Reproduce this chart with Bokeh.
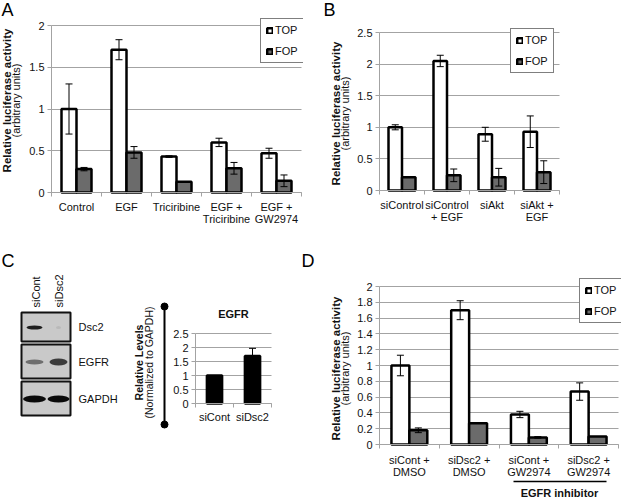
import math
from bokeh.plotting import figure
from bokeh.models import (Range1d, FixedTicker, ColumnDataSource, Whisker, TeeHead,
                          Legend, LegendItem, Label, Arrow, NumeralTickFormatter)
from bokeh.layouts import row, column
from bokeh.core.properties import value
from bokeh.embed import file_html
from bokeh.resources import INLINE

# ---------------- data ----------------
A_categories = ["Control", "EGF", "Triciribine", "EGF +\nTriciribine", "EGF +\nGW2974"]
A_top = [1.00, 1.71, 0.43, 0.60, 0.47]
A_top_err = [0.30, 0.12, 0.01, 0.05, 0.06]
A_fop = [0.28, 0.48, 0.13, 0.29, 0.14]
A_fop_err = [0.02, 0.07, 0.00, 0.07, 0.07]
A_yticks = [0, 0.5, 1, 1.5, 2]

B_categories = ["siControl", "siControl\n+ EGF", "siAkt", "siAkt +\nEGF"]
B_top = [1.00, 2.05, 0.89, 0.93]
B_top_err = [0.04, 0.09, 0.11, 0.25]
B_fop = [0.21, 0.24, 0.21, 0.29]
B_fop_err = [0.00, 0.10, 0.14, 0.18]
B_yticks = [0, 0.5, 1, 1.5, 2, 2.5]

C_categories = ["siCont", "siDsc2"]
C_values = [1.00, 1.70]
C_err = [0.00, 0.27]
C_yticks = [0, 0.5, 1, 1.5, 2, 2.5]
blot_lanes = ["siCont", "siDsc2"]
blot_rows = ["Dsc2", "EGFR", "GAPDH"]
blot_band_strength = [[0.85, 0.08], [0.45, 0.70], [0.95, 0.95]]

D_categories = ["siCont +\nDMSO", "siDsc2 +\nDMSO", "siCont +\nGW2974", "siDsc2 +\nGW2974"]
D_top = [1.00, 1.70, 0.38, 0.67]
D_top_err = [0.13, 0.12, 0.04, 0.11]
D_fop = [0.18, 0.27, 0.09, 0.10]
D_fop_err = [0.03, 0.00, 0.01, 0.00]
D_yticks = [0, 0.2, 0.4, 0.6, 0.8, 1, 1.2, 1.4, 1.6, 1.8, 2]

series_names = ["TOP", "FOP"]

# ---------------- style ----------------
FONT = "Liberation Sans"
GRID = "#a3a3a3"
FOP_FILL = "#6b6b6b"
TXT = "#111111"


def panel(cats, series, yticks, fig_box, area, bar_w=0.3, label_standoff=4):
    """fig_box: (x0, y0, w, h) of the figure on the page; area: (l, t, r, b) plot area on the page."""
    fx0, fy0, fw, fh = fig_box
    l, t, r, b = area
    n = len(cats)
    ymax = yticks[-1]
    sx = (r - l) / n
    sy = (b - t) / ymax
    xr = Range1d(-0.5 - (l - fx0) / sx, -0.5 + (fx0 + fw - l) / sx)
    yr = Range1d(-(fy0 + fh - b) / sy, (b - fy0) / sy)
    p = figure(width=fw, height=fh, x_range=xr, y_range=yr,
               toolbar_location=None, output_backend="svg", min_border=0)
    p.outline_line_color = None
    p.xgrid.visible = False
    g = p.ygrid[0]
    g.ticker = FixedTicker(ticks=yticks)
    g.grid_line_color = GRID
    g.cross_bounds = (-0.5, n - 0.5)

    xa = p.xaxis[0]
    xa.fixed_location = 0
    xa.bounds = (-0.5, n - 0.5)
    xa.ticker = FixedTicker(ticks=list(range(n)), minor_ticks=[i - 0.5 for i in range(n + 1)])
    xa.major_label_overrides = {i: c for i, c in enumerate(cats)}
    xa.major_tick_out = 0
    xa.major_tick_in = 0
    xa.minor_tick_out = 4
    xa.minor_tick_in = 0
    xa.minor_tick_line_color = GRID
    xa.axis_line_color = GRID
    xa.major_label_text_font = FONT
    xa.major_label_text_font_size = "11px"
    xa.major_label_text_color = TXT
    xa.major_label_text_line_height = 1.0
    xa.major_label_standoff = label_standoff

    ya = p.yaxis[0]
    ya.fixed_location = -0.5
    ya.bounds = (0, ymax)
    ya.ticker = FixedTicker(ticks=yticks)
    ya.formatter = NumeralTickFormatter(format="0.[0]")
    ya.major_tick_out = 4
    ya.major_tick_in = 0
    ya.minor_tick_out = 0
    ya.minor_tick_in = 0
    ya.major_tick_line_color = GRID
    ya.axis_line_color = GRID
    ya.major_label_text_font = FONT
    ya.major_label_text_font_size = "11px"
    ya.major_label_text_color = TXT
    ya.major_label_standoff = 3

    k = len(series)
    renderers = []
    for j, (vals, errs, fill) in enumerate(series):
        off = (j - (k - 1) / 2) * bar_w
        xs = [i + off for i in range(n)]
        rr = p.vbar(x=xs, top=vals, width=bar_w, fill_color=fill, line_color="black", line_width=2.5)
        renderers.append(rr)
        sel = [i for i in range(n) if errs[i] > 0]
        src = ColumnDataSource(dict(base=[xs[i] for i in sel],
                                    lower=[vals[i] - errs[i] for i in sel],
                                    upper=[vals[i] + errs[i] for i in sel]))
        w = Whisker(source=src, base="base", lower="lower", upper="upper", dimension="height",
                    line_color="black", line_width=1, level="overlay",
                    upper_head=TeeHead(size=7, line_color="black", line_width=1),
                    lower_head=TeeHead(size=7, line_color="black", line_width=1))
        p.add_layout(w)

    def dx(px):
        return -0.5 + (px - l) / sx

    def dy(py):
        return (b - py) / sy

    return p, renderers, dx, dy


def add_legend(p, renderers, fig_box, left, bottom):
    fx0, fy0, fw, fh = fig_box
    lg = Legend(items=[LegendItem(label=nm, renderers=[rr]) for nm, rr in zip(series_names, renderers)],
                location=(left - fx0, fy0 + fh - bottom), orientation="vertical",
                border_line_color="black", border_line_width=1,
                background_fill_color="white", background_fill_alpha=1,
                padding=5, spacing=9, margin=0, glyph_width=7, glyph_height=7,
                label_standoff=2, label_height=12, label_width=20,
                label_text_font=FONT, label_text_font_size="11px", label_text_color=TXT)
    p.add_layout(lg, "center")


def ytitle(p, y, bold_text, normal_text, xb, xn, size_b="11.5px", size_n="11px"):
    p.add_layout(Label(x=xb, y=y, text=bold_text, angle=math.pi / 2, text_align="center",
                       text_baseline="middle", text_font=FONT, text_font_style="bold",
                       text_font_size=size_b, text_color=TXT))
    p.add_layout(Label(x=xn, y=y, text=normal_text, angle=math.pi / 2, text_align="center",
                       text_baseline="middle", text_font=FONT, text_font_size=size_n, text_color=TXT))


def letter(p, x, y, txt):
    p.add_layout(Label(x=x, y=y, text=txt, text_align="left", text_baseline="top",
                       text_font=FONT, text_font_size="18px", text_color="black"))


# ---------------- Panel A ----------------
A_fig = (0, 0, 303, 250)
pA, rA, dxA, dyA = panel(A_categories, [(A_top, A_top_err, "white"), (A_fop, A_fop_err, FOP_FILL)],
                         A_yticks, A_fig, (51, 25, 301, 192), label_standoff=4)
add_legend(pA, rA, A_fig, 260, 63)
ytitle(pA, dyA(100), "Relative luciferase activity", "(arbitrary units)", dxA(6), dxA(15))
letter(pA, dxA(1), dyA(-1), "A")

# ---------------- Panel B ----------------
B_fig = (303, 0, 318, 250)
pB, rB, dxB, dyB = panel(B_categories, [(B_top, B_top_err, "white"), (B_fop, B_fop_err, FOP_FILL)],
                         B_yticks, B_fig, (379, 32, 559, 190), label_standoff=4)
add_legend(pB, rB, B_fig, 510, 73)
ytitle(pB, dyB(113), "Relative luciferase activity", "(arbitrary units)", dxB(335), dxB(344))
letter(pB, dxB(323), dyB(-1), "B")

# ---------------- Panel C: blot ----------------
blot = figure(width=170, height=252, x_range=Range1d(0, 170), y_range=Range1d(502, 250),
              toolbar_location=None, output_backend="svg", min_border=0,
              x_axis_location=None, y_axis_location=None)
blot.grid.visible = False
blot.outline_line_color = None
row_tops = [312, 344, 381]
row_bottoms = [341, 378, 415]
blot.quad(left=[21] * 3, right=[70] * 3, top=row_tops, bottom=row_bottoms,
          fill_color="#c9c9c9", line_color="#111111", line_width=2)
lane_x = [34, 58]
band_h = [[4, 3], [5, 7], [7, 7]]
band_w = [[16, 5], [18, 18], [23, 22]]
for ri in range(3):
    cy = (row_tops[ri] + row_bottoms[ri]) / 2 + 0.5
    for li in range(2):
        blot.ellipse(x=[lane_x[li]], y=[cy], width=[band_w[ri][li]], height=[band_h[ri][li]],
                     fill_color="black", fill_alpha=blot_band_strength[ri][li], line_color=None)
blot.text(x=[35, 58], y=[307, 307], text=blot_lanes, angle=math.pi / 2, text_align="left",
          text_baseline="middle", text_font=value(FONT), text_font_size="11px", text_color=TXT)
blot.text(x=[78, 78, 78], y=[(row_tops[i] + row_bottoms[i]) / 2 for i in range(3)], text=blot_rows,
          text_align="left", text_baseline="middle", text_font=value(FONT), text_font_size="11px",
          text_color=TXT)
blot.text(x=[138], y=[362], text=["Relative Levels"], angle=math.pi / 2, text_align="center",
          text_baseline="middle", text_font=value(FONT), text_font_style="bold",
          text_font_size="10.5px", text_color=TXT)
blot.text(x=[148], y=[362], text=["(Normalized to GAPDH)"], angle=math.pi / 2, text_align="center",
          text_baseline="middle", text_font=value(FONT), text_font_size="10.5px", text_color=TXT)
blot.segment(x0=[164], y0=[306], x1=[164], y1=[424], line_color="black", line_width=2)
blot.scatter(x=[164, 164], y=[306, 424], size=7, color="black")
blot.text(x=[1], y=[250], text=["C"], text_align="left", text_baseline="top",
          text_font=value(FONT), text_font_size="18px", text_color="black")

# ---------------- Panel C: bar ----------------
C_fig = (170, 250, 130, 252)
pC, rC, dxC, dyC = panel(C_categories, [(C_values, C_err, "black")], C_yticks,
                         C_fig, (195, 333, 271, 403), bar_w=0.4, label_standoff=3)
pC.add_layout(Label(x=dxC(233), y=dyC(313), text="EGFR", text_align="center", text_baseline="middle",
                    text_font=FONT, text_font_style="bold", text_font_size="11px", text_color=TXT))

# ---------------- Panel D ----------------
D_fig = (300, 250, 321, 252)
pD, rD, dxD, dyD = panel(D_categories, [(D_top, D_top_err, "white"), (D_fop, D_fop_err, FOP_FILL)],
                         D_yticks, D_fig, (379, 286, 618, 444), label_standoff=5)
add_legend(pD, rD, D_fig, 579, 323)
ytitle(pD, dyD(368), "Relative luciferase activity", "(arbitrary units)", dxD(335), dxD(344))
letter(pD, dxD(301), dyD(250), "D")
pD.add_layout(Arrow(x_start=dxD(513), y_start=dyD(481), x_end=dxD(606), y_end=dyD(481),
                    start=None, end=None, line_color="black", line_width=1.5))
pD.add_layout(Label(x=dxD(559), y=dyD(492), text="EGFR inhibitor", text_align="center",
                    text_baseline="middle", text_font=FONT, text_font_style="bold",
                    text_font_size="11px", text_color=TXT))

layout = column(row(pA, pB), row(blot, pC, pD))
open("out.html", "w").write(file_html(layout, INLINE))
